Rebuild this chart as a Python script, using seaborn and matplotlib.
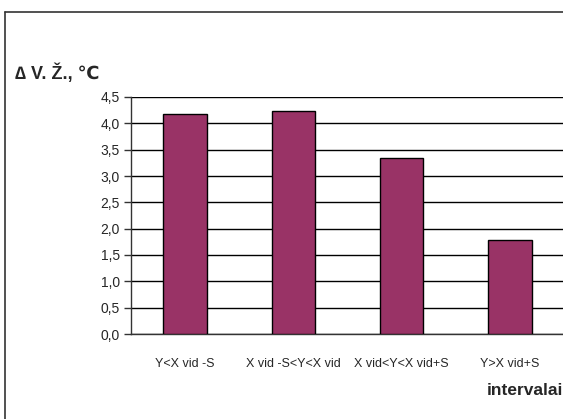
import matplotlib
matplotlib.use("Agg")
import matplotlib.pyplot as plt
from matplotlib.lines import Line2D
import seaborn as sns
import pandas as pd

categories = ["Y<X vid -S", "X vid -S<Y<X vid", "X vid<Y<X vid+S", "Y>X vid+S"]
values = [4.18, 4.24, 3.35, 1.78]
y_ticks = [0.0, 0.5, 1.0, 1.5, 2.0, 2.5, 3.0, 3.5, 4.0, 4.5]
y_label = "∆ V. Ž., ℃"
x_label = "intervalai"

sns.set_theme(style="white")
plt.rcParams["font.family"] = ["Liberation Sans Narrow", "Liberation Sans", "DejaVu Sans"]

df = pd.DataFrame({"interval": categories, "value": values})

W, H = 563, 419
fig = plt.figure(figsize=(W / 100, H / 100), dpi=100)
ax = fig.add_axes([131 / W, 1 - 334 / H, (564 - 131) / W, (334 - 97) / H])

sns.barplot(data=df, x="interval", y="value", color="#993366", width=0.4,
            edgecolor="black", linewidth=1.0, saturation=1, ax=ax, zorder=3)

ax.set_ylim(0, 4.5)
ax.set_xlim(-0.5, len(categories) - 0.5)
ax.set_yticks(y_ticks)
ax.set_yticklabels([f"{t:.1f}".replace(".", ",") for t in y_ticks], fontsize=10)
ax.yaxis.grid(True, color="black", linewidth=1.0, zorder=0)
ax.set_axisbelow(True)

ax.set_xticks(range(len(categories)))
ax.set_xticklabels(categories, fontsize=9)
ax.set_xticks([i - 0.5 for i in range(len(categories) + 1)], minor=True)
ax.tick_params(axis="x", which="major", length=0, pad=17)
ax.tick_params(axis="x", which="minor", length=5, width=1, color="#333333", direction="out")
ax.tick_params(axis="y", which="major", length=5, width=1, color="#333333", direction="out", left=True, pad=3)

for side in ("top", "right"):
    ax.spines[side].set_visible(False)
for side in ("left", "bottom"):
    ax.spines[side].set_color("#333333")
    ax.spines[side].set_linewidth(1.0)
ax.set_xlabel("")
ax.set_ylabel("")

fig.text(15 / W, 1 - 73 / H, y_label, fontsize=13, fontweight="bold", va="center", ha="left")
fig.text(563 / W, 1 - 390 / H, x_label, fontsize=12.5, fontweight="bold", va="center", ha="right")

# outer chart frame
fig.add_artist(Line2D([5 / W, 5 / W], [0, 1 - 12 / H], transform=fig.transFigure, color="#333333", linewidth=1.2))
fig.add_artist(Line2D([5 / W, 1.01], [1 - 12 / H, 1 - 12 / H], transform=fig.transFigure, color="#333333", linewidth=1.2))

fig.savefig("out.png", dpi=100)
